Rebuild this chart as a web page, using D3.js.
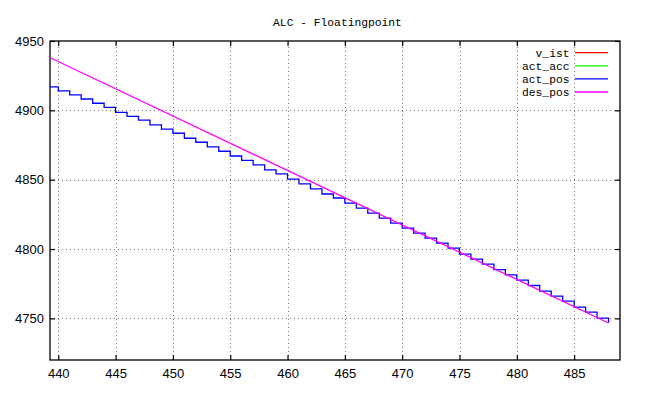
<!DOCTYPE html>
<html>
<head>
<meta charset="utf-8">
<script src="https://cdn.jsdelivr.net/npm/d3@7"></script>
<style>
  body { margin: 0; background: #fff; }
  svg { display: block; }
</style>
</head>
<body>
<svg id="chart"></svg>
<script>
// chart values
const chartTitle = 'ALC - Floatingpoint'
const seriesNames = ['v_ist', 'act_acc', 'act_pos', 'des_pos']
const seriesColors = ['#ff0000', '#00ff00', '#0000ff', '#ff00ff']

const xTicks = [440, 445, 450, 455, 460, 465, 470, 475, 480, 485]
const yTicks = [4750, 4800, 4850, 4900, 4950]

// act_pos, sampled once per unit, drawn as steps
const posX = [439, 440, 441, 442, 443, 444, 445, 446, 447, 448,
              449, 450, 451, 452, 453, 454, 455, 456, 457, 458,
              459, 460, 461, 462, 463, 464, 465, 466, 467, 468,
              469, 470, 471, 472, 473, 474, 475, 476, 477, 478,
              479, 480, 481, 482, 483, 484, 485, 486, 487, 488]
const actPos = [4916.9, 4914.0, 4911.1, 4908.2, 4905.1, 4902.2, 4898.6, 4895.7, 4892.9, 4889.5,
                4886.4, 4883.5, 4879.9, 4877.0, 4873.6, 4870.5, 4867.1, 4864.0, 4860.7, 4857.1,
                4854.2, 4850.4, 4847.0, 4843.4, 4839.7, 4836.8, 4833.1, 4829.5, 4825.9, 4822.3,
                4818.7, 4815.1, 4811.5, 4807.9, 4804.2, 4800.6, 4796.4, 4792.7, 4789.1, 4785.2,
                4781.4, 4777.6, 4773.7, 4769.7, 4766.1, 4762.5, 4758.1, 4754.5, 4750.2, 4746.8]

// des_pos is a straight ramp
const desX = [439, 488]
const desPos = [4939.1, 4746.7]

const W = 649, H = 398
const m = { left: 50, right: 29, top: 41, bottom: 38 }

const svg = d3.select('#chart')
    .attr('width', W)
    .attr('height', H)

const x = d3.scaleLinear()
    .domain([439.28, 489])
    .range([m.left, W - m.right])
const y = d3.scaleLinear()
    .domain([4720, 4950])
    .range([H - m.bottom, m.top])

const x0 = m.left, x1 = W - m.right, y0 = H - m.bottom, y1 = m.top

svg.append('defs').append('clipPath')
    .attr('id', 'plot-clip')
    .append('rect')
    .attr('x', x0).attr('y', y1)
    .attr('width', x1 - x0).attr('height', y0 - y1)

// grid
const grid = svg.append('g').attr('class', 'grid')
grid.selectAll('line.gx')
    .data(xTicks)
    .enter().append('line')
    .attr('class', 'gx')
    .attr('x1', d => Math.round(x(d)) + 0.5).attr('x2', d => Math.round(x(d)) + 0.5)
    .attr('y1', y0).attr('y2', y1)
grid.selectAll('line.gy')
    .data(yTicks.filter(d => d < 4950))
    .enter().append('line')
    .attr('class', 'gy')
    .attr('y1', d => Math.round(y(d)) + 0.5).attr('y2', d => Math.round(y(d)) + 0.5)
    .attr('x1', x0).attr('x2', x1)
grid.selectAll('line')
    .attr('stroke', '#777')
    .attr('stroke-width', 1)
    .attr('stroke-dasharray', '1,3')

// axes, ticks pointing in and mirrored
const tickLen = 5
const axisFont = '"Liberation Sans", Arial, sans-serif'

svg.append('g')
    .attr('transform', `translate(0,${y0})`)
    .call(d3.axisBottom(x).tickValues(xTicks).tickSize(-tickLen).tickPadding(9))
svg.append('g')
    .attr('transform', `translate(0,${y1})`)
    .call(d3.axisTop(x).tickValues(xTicks).tickSize(-tickLen).tickFormat(''))
svg.append('g')
    .attr('transform', `translate(${x0},0)`)
    .call(d3.axisLeft(y).tickValues(yTicks).tickSize(-tickLen).tickPadding(6).tickFormat(d3.format('d')))
svg.append('g')
    .attr('transform', `translate(${x1},0)`)
    .call(d3.axisRight(y).tickValues(yTicks).tickSize(-tickLen).tickFormat(''))

svg.selectAll('.domain').remove()
svg.selectAll('.tick line').attr('stroke', '#000').attr('stroke-width', 1.2)
svg.selectAll('.tick text')
    .attr('fill', '#000')
    .style('font-family', axisFont)
    .style('font-size', '13px')

// border
svg.append('rect')
    .attr('x', x0).attr('y', y1)
    .attr('width', x1 - x0).attr('height', y0 - y1)
    .attr('fill', 'none')
    .attr('stroke', '#000')
    .attr('stroke-width', 1.3)

// series
const plot = svg.append('g').attr('clip-path', 'url(#plot-clip)')

const stepLine = d3.line()
    .x(d => x(d[0]))
    .y(d => y(d[1]))
    .curve(d3.curveStepAfter)

plot.append('path')
    .datum(posX.map((d, i) => [d, actPos[i]]))
    .attr('d', stepLine)
    .attr('fill', 'none')
    .attr('stroke', seriesColors[2])
    .attr('stroke-width', 1.3)

const straight = d3.line()
    .x(d => x(d[0]))
    .y(d => y(d[1]))

plot.append('path')
    .datum(desX.map((d, i) => [d, desPos[i]]))
    .attr('d', straight)
    .attr('fill', 'none')
    .attr('stroke', seriesColors[3])
    .attr('stroke-width', 1.3)

// title
const monoFont = '"Liberation Mono", "DejaVu Sans Mono", monospace'
svg.append('text')
    .attr('x', 337.5)
    .attr('y', 25.5)
    .attr('text-anchor', 'middle')
    .style('font-family', monoFont)
    .style('font-size', '11.3px')
    .text(chartTitle)

// legend
const legend = svg.append('g')
    .selectAll('g')
    .data(seriesNames)
    .enter().append('g')
    .attr('transform', (d, i) => `translate(0,${52.7 + i * 13.1})`)

legend.append('text')
    .attr('x', 569.5)
    .attr('y', 4.3)
    .attr('text-anchor', 'end')
    .style('font-family', monoFont)
    .style('font-size', '11.3px')
    .text(d => d)

legend.append('line')
    .attr('x1', 575).attr('x2', 608)
    .attr('y1', 0).attr('y2', 0)
    .attr('stroke', (d, i) => seriesColors[i])
    .attr('stroke-width', 1.3)
</script>
</body>
</html>
